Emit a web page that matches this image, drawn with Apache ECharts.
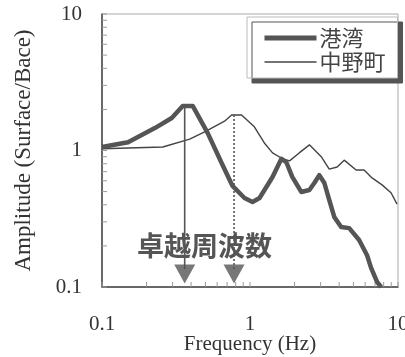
<!DOCTYPE html>
<html>
<head>
<meta charset="utf-8">
<script src="https://cdn.jsdelivr.net/npm/echarts@6/dist/echarts.min.js"></script>
<style>
  html, body { margin: 0; padding: 0; background: #fff; }
  #chart { width: 405px; height: 357px; }
</style>
</head>
<body>
<div id="chart"></div>
<script>
// 港湾 (thick line): [frequency Hz, amplitude]
const harborFreq = [0.1, 0.15, 0.2275, 0.296, 0.351, 0.41, 0.518, 0.643, 0.762, 0.918, 1.04, 1.16, 1.42, 1.63, 1.76, 1.93, 2.22, 2.52, 2.72, 2.94, 3.18, 3.43, 3.71, 4.13, 4.68, 5.46, 6.18, 6.58, 7.22, 7.69]
const harborAmp = [1.06, 1.15, 1.46, 1.73, 2.12, 2.12, 1.34, 0.81, 0.55, 0.449, 0.42, 0.449, 0.64, 0.87, 0.82, 0.64, 0.497, 0.514, 0.578, 0.66, 0.578, 0.434, 0.326, 0.275, 0.27, 0.221, 0.171, 0.138, 0.109, 0.1]

// 中野町 (thin line)
const nakanoFreq = [0.1, 0.2575, 0.391, 0.494, 0.673, 0.751, 0.877, 1.07, 1.25, 1.42, 1.66, 1.85, 2.15, 2.52, 3.03, 3.43, 3.88, 4.33, 5.21, 5.9, 6.68, 7.8, 8.97, 9.85]
const nakanoAmp = [1.03, 1.06, 1.21, 1.37, 1.64, 1.82, 1.82, 1.49, 1.135, 0.96, 0.87, 0.84, 0.96, 1.1, 0.9, 0.73, 0.757, 0.85, 0.72, 0.72, 0.63, 0.56, 0.49, 0.405]

// predominant frequency markers
const peakFreq = [0.362, 0.78]
const peakAmp = [2.12, 1.82]
const arrowTip = 0.1245

const minorTicks = [0.2, 0.3, 0.4, 0.5, 0.6, 0.7, 0.8, 0.9, 2, 3, 4, 5, 6, 7, 8, 9]
const majorTicks = [0.1, 1, 10]

const zip = (xs, ys) => xs.map((x, i) => [x, ys[i]])

const serif = '"Liberation Serif", "DejaVu Serif", serif'
const cjk = '"Noto Sans CJK JP", "Noto Sans", sans-serif'
const gray = '#555'

const chart = echarts.init(document.getElementById('chart'))

// short inside ticks drawn through the axes' own scales
const tickSeries = (axis, len) => ({
  type: 'custom',
  silent: true,
  data: minorTicks.concat(majorTicks).map(v => [v]),
  renderItem: (params, api) => {
    const v = api.value(0)
    const p = axis === 'x' ? api.coord([v, 0.1]) : api.coord([0.1, v])
    const end = axis === 'x' ? [p[0], p[1] - len] : [p[0] + len, p[1]]
    return {
      type: 'line',
      shape: { x1: p[0], y1: p[1], x2: end[0], y2: end[1] },
      style: { stroke: '#999', lineWidth: 1 },
    }
  },
})

const option = {
  animation: false,
  backgroundColor: '#fff',
  grid: {
    left: 102,
    right: 7,
    top: 14,
    bottom: 70,
    containLabel: false,
    outerBoundsMode: 'none',
    show: true,
    borderColor: '#aaa',
    borderWidth: 1,
  },
  legend: {
    data: [
      { name: '港湾', lineStyle: { width: 5 } },
      { name: '中野町', lineStyle: { width: 1.6 } },
    ],
    orient: 'vertical',
    left: 247,
    top: 17,
    padding: [10, 12, 5, 15],
    itemWidth: 52,
    itemHeight: 14,
    itemGap: 2,
    itemStyle: { opacity: 0 },
    backgroundColor: '#fff',
    borderColor: '#bbb',
    borderWidth: 1,
    shadowColor: '#555',
    shadowOffsetX: 5,
    shadowOffsetY: 5,
    shadowBlur: 0,
    textStyle: { fontFamily: cjk, fontSize: 22, lineHeight: 20, color: '#444', padding: [0, 0, 0, -2] },
  },
  xAxis: {
    type: 'log',
    logBase: 10,
    min: 0.1,
    max: 10,
    name: 'Frequency (Hz)',
    nameLocation: 'middle',
    nameGap: 47,
    nameMoveOverlap: false,
    nameTextStyle: { fontFamily: serif, fontSize: 21, color: '#333' },
    axisLine: { lineStyle: { color: '#444', width: 1.5 } },
    axisTick: { show: false },
    splitLine: { show: false },
    axisLabel: {
      fontFamily: serif,
      fontSize: 21,
      color: '#333',
      margin: 27,
      formatter: v => String(v),
    },
  },
  yAxis: {
    type: 'log',
    logBase: 10,
    min: 0.1,
    max: 10,
    name: 'Amplitude (Surface/Bace)',
    nameLocation: 'middle',
    nameGap: 67,
    nameMoveOverlap: false,
    nameTextStyle: { fontFamily: serif, fontSize: 23, color: '#333' },
    axisLine: { lineStyle: { color: '#444', width: 1.5 } },
    axisTick: { show: false },
    splitLine: { show: false },
    axisLabel: {
      fontFamily: serif,
      fontSize: 21,
      color: '#333',
      margin: 20,
      formatter: v => String(v),
    },
  },
  graphic: [{
    type: 'text',
    left: 137,
    top: 232,
    z: 100,
    style: {
      text: '卓越周波数',
      font: 'bold 27px ' + cjk,
      fill: gray,
    },
  }],
  series: [
    tickSeries('x', 5),
    tickSeries('y', 5),
    {
      name: '港湾',
      type: 'line',
      data: zip(harborFreq, harborAmp),
      symbol: 'none',
      lineStyle: { color: gray, width: 4.5, join: 'round' },
      itemStyle: { color: gray },
      z: 5,
    },
    {
      name: '中野町',
      type: 'line',
      data: zip(nakanoFreq, nakanoAmp),
      symbol: 'none',
      lineStyle: { color: '#444', width: 1.4 },
      itemStyle: { color: '#444' },
      z: 4,
    },
    {
      name: 'arrow1',
      type: 'line',
      data: [[peakFreq[0], peakAmp[0]], [peakFreq[0], 0.135]],
      symbol: 'none',
      lineStyle: { color: gray, width: 1.6 },
      z: 6,
    },
    {
      name: 'arrow2',
      type: 'line',
      data: [[peakFreq[1], peakAmp[1]], [peakFreq[1], 0.135]],
      symbol: 'none',
      lineStyle: { color: gray, width: 1.6, type: [2, 2] },
      z: 6,
    },
    {
      name: 'tips',
      type: 'scatter',
      data: peakFreq.map(f => [f, arrowTip]),
      symbol: 'triangle',
      symbolSize: [21, 19],
      symbolRotate: 180,
      itemStyle: { color: gray },
      z: 7,
    },
  ],
}

chart.setOption(option)
</script>
</body>
</html>
